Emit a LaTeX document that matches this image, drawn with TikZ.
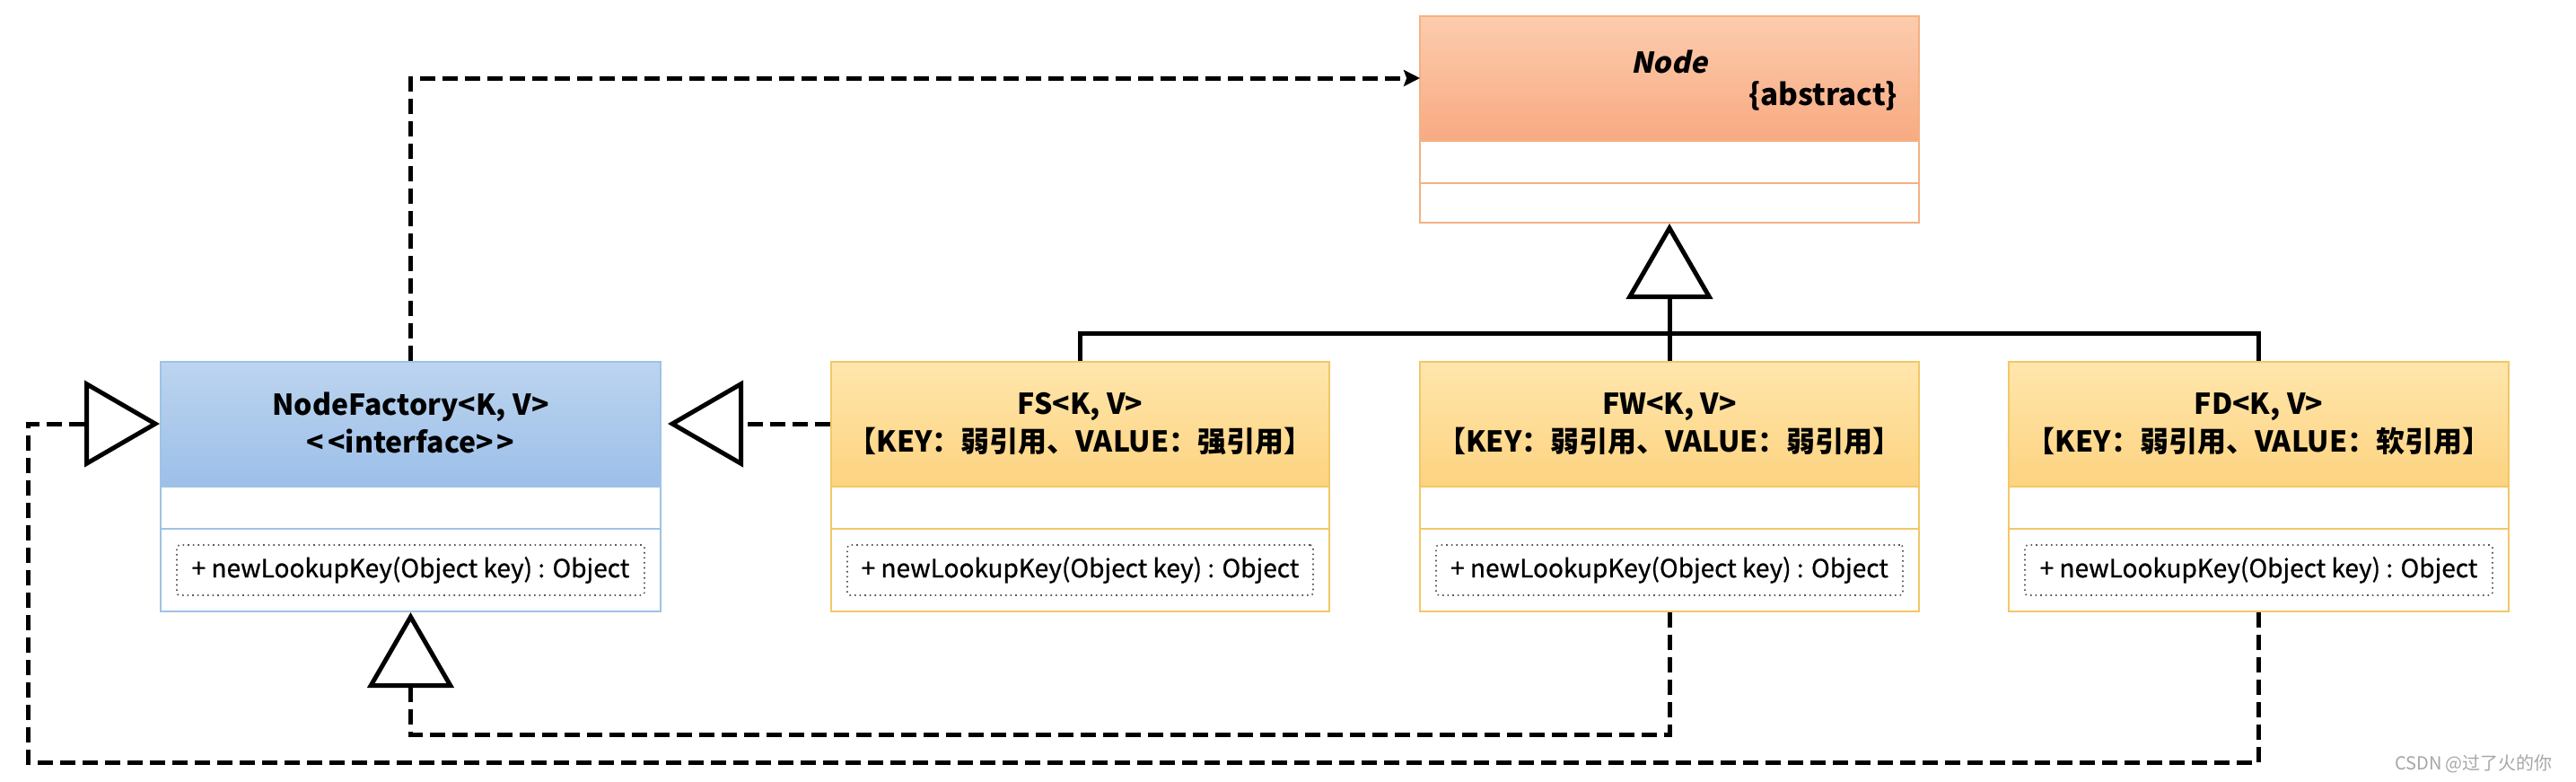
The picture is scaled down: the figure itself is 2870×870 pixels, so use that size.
\documentclass[tikz,border=0pt]{standalone}
\usepackage{fontspec}
\setmainfont{Noto Sans CJK SC}
\newfontfamily\slantfont{Noto Sans CJK SC}[FakeSlant=0.2]
\newfontfamily\methfont{Noto Sans CJK SC}[FakeBold=0.8]
\usetikzlibrary{arrows.meta,fit}
\definecolor{orTop}{HTML}{FCCCAD}
\definecolor{orBot}{HTML}{F8AA82}
\definecolor{orLine}{HTML}{F4B183}
\definecolor{blTop}{HTML}{BCD4EF}
\definecolor{blBot}{HTML}{9CBFE9}
\definecolor{blLine}{HTML}{9DC3E6}
\definecolor{ylTop}{HTML}{FFE6AC}
\definecolor{ylBot}{HTML}{FDD380}
\definecolor{ylLine}{HTML}{F2C865}
\tikzset{
 classframe/.style={draw=#1, line width=0.5pt, inner sep=0pt},
 compline/.style={draw=#1, line width=0.5pt},
 methodbox/.style={draw=black!65, densely dotted, line width=0.4pt, inner sep=0pt, rounded corners=0.8pt},
 methodtext/.style={font=\methfont\fontsize{7}{8}\selectfont},
 titletext/.style={font=\bfseries\fontsize{8}{10.5}\selectfont, align=center},
 conn/.style={line width=1.25pt, line join=miter},
 depline/.style={conn, dash pattern=on 4.25pt off 2pt},
 gentip/.style={-{Triangle[open,length=21pt,width=24pt]}},
}
\newcommand\umlclass[8]{%
 \shade[top color=#8Top, bottom color=#8Bot] (#2,#4) rectangle (#3,#5);
 \draw[compline=#8Line] (#2,#5) -- (#3,#5) (#2,#6) -- (#3,#6);
 \node[classframe=#8Line, fit={(#2,#4) (#3,#7)}] (#1) {};
}
\newcommand\umlmethod[3]{%
 \node[methodbox, fit={({#2+18},607) ({#3-18},663)}] (#1) {};
 \node[methodtext] (#1t) at (#1.center) {+ newLookupKey(Object key) : Object};
}
\begin{document}
\begin{tikzpicture}[x=0.25pt,y=-0.25pt]
\useasboundingbox (0,0) rectangle (2870,870);
% abstract Node
\umlclass{AbsNode}{1582}{2138}{18}{157}{204}{248}{or}
\node[font=\slantfont\bfseries\fontsize{8}{9}\selectfont] (Nt) at (1860,69) {Node};
\node[font=\bfseries\fontsize{8.3}{9}\selectfont, anchor=east, inner sep=0pt] (Na) at (2115,107) {\{abstract\}};
% NodeFactory
\umlclass{NF}{179}{736}{403}{542}{589}{681}{bl}
\node[titletext] (NFt) at (457.5,471) {NodeFactory<K, V>\\<\kern1pt<interface>\kern1pt>};
\umlmethod{NFm}{179}{736}
% FS
\umlclass{FS}{926}{1481}{403}{542}{589}{681}{yl}
\node[titletext] (FSt) at (1203.5,472) {FS<K, V>\\【KEY：弱引用、VALUE：强引用】};
\umlmethod{FSm}{926}{1481}
% FW
\umlclass{FW}{1582}{2138}{403}{542}{589}{681}{yl}
\node[titletext] (FWt) at (1860,472) {FW<K, V>\\【KEY：弱引用、VALUE：弱引用】};
\umlmethod{FWm}{1582}{2138}
% FD
\umlclass{FD}{2238}{2795}{403}{542}{589}{681}{yl}
\node[titletext] (FDt) at (2516.5,472) {FD<K, V>\\【KEY：弱引用、VALUE：软引用】};
\umlmethod{FDm}{2238}{2795}
% generalization to Node
\coordinate (bar) at (1860,371);
\draw[conn, gentip] (FW.north) -- (AbsNode.south);
\draw[conn] (FS.north) -- (FS.north |- bar) -- (FD.north |- bar) -- (FD.north);
% dependency NodeFactory -> Node
\coordinate (nodeIn) at (1582,87);
\draw[depline, -{Stealth[length=4.5pt,width=4.5pt,inset=0.8pt]}] (NF.north) |- (nodeIn);
% realizations
\coordinate (fsy) at (0,472);
\draw[depline, gentip] (FS.west |- fsy) -- ([xshift=1.75pt]NF.east |- fsy);
\coordinate (c1) at (31,849);
\coordinate (c2) at (31,472);
\draw[depline, gentip] (FD.south) -- (FD.south |- c1) -- (c1) -- (c2) -- (NF.west |- c2);
\coordinate (c3) at (0,818);
\draw[depline, gentip] (FW.south) -- (FW.south |- c3) -- (NF.south |- c3) -- (NF.south);
% watermark
\node[font=\fontsize{5}{6}\selectfont, text=gray!70, anchor=east] (wm) at (2858,851) {CSDN @过了火的你};
\end{tikzpicture}
\end{document}
